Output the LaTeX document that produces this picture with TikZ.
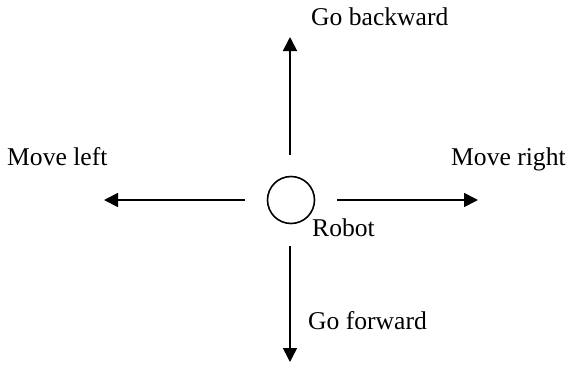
\documentclass[tikz,border=0pt]{standalone}
\usepackage{fontspec}
\setmainfont{Liberation Serif}
\usetikzlibrary{arrows.meta}
\begin{document}
\begin{tikzpicture}[x=1pt,y=-1pt,
  lbl/.style={anchor=base west,inner sep=0pt,font=\fontsize{25.6}{30}\selectfont},
  arr/.style={line width=1.6pt,-{Triangle[length=14pt,width=14pt]}}]
\useasboundingbox (0,0) rectangle (570,367);
\node[circle,draw,line width=1.6pt,minimum size=47pt,inner sep=0pt] (robot) at (291,200) {};
\coordinate (ls) at (245,200); \coordinate (le) at (104,200);
\coordinate (rs) at (337,200); \coordinate (re) at (478,200);
\coordinate (us) at (290,155); \coordinate (ue) at (290,37);
\coordinate (ds) at (290,246); \coordinate (de) at (290,362);
\draw[arr] (ls) -- (le);
\draw[arr] (rs) -- (re);
\draw[arr] (us) -- (ue);
\draw[arr] (ds) -- (de);
\node[lbl] (back) at (311,25) {Go backward};
\node[lbl] (left) at (7,165) {Move left};
\node[lbl] (right) at (451,165) {Move right};
\node[lbl] (rlabel) at (312,236) {Robot};
\node[lbl] (fwd) at (308,329) {Go forward};
\end{tikzpicture}
\end{document}
